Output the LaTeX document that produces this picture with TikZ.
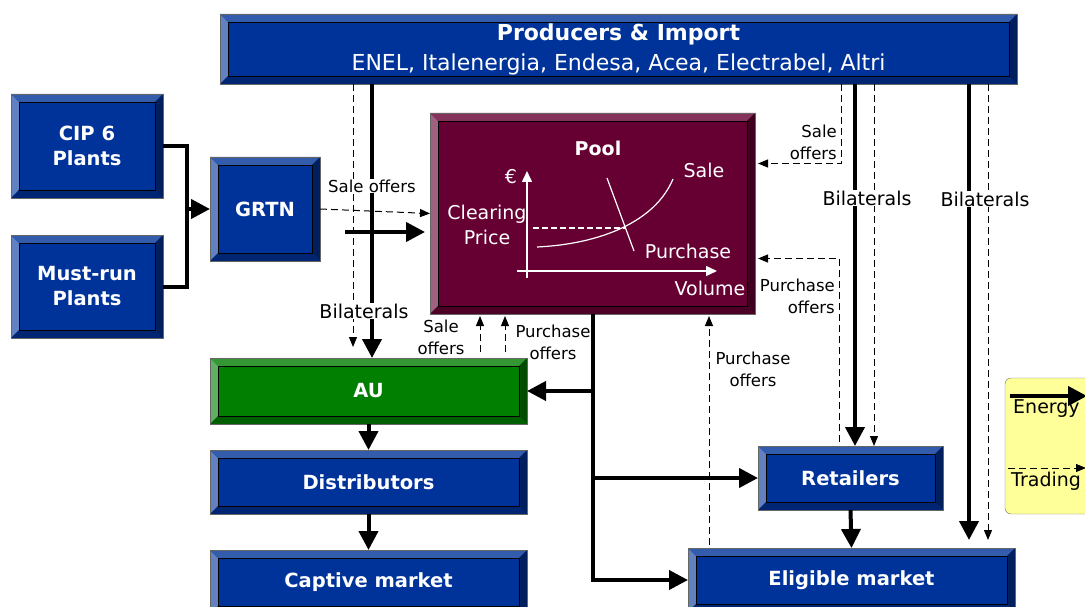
\documentclass[tikz,border=0pt]{standalone}
\usepackage{fontspec}
\setmainfont{DejaVu Sans}
\usepackage{tikz}
\usetikzlibrary{positioning}
\usetikzlibrary{arrows.meta}
\usetikzlibrary{calc}

\definecolor{boxblue}{HTML}{003399}
\definecolor{boxgreen}{HTML}{007F00}
\definecolor{poolred}{HTML}{660033}
\definecolor{legendyellow}{HTML}{FFFF99}

% bevelled faces of a panel
\newcommand\bevelfaces[1]{%
  \coordinate (pA) at (path picture bounding box.north west);
  \coordinate (pB) at (path picture bounding box.north east);
  \coordinate (pC) at (path picture bounding box.south east);
  \coordinate (pD) at (path picture bounding box.south west);
  \coordinate (qA) at ([xshift=8pt,yshift=-8pt]pA);
  \coordinate (qB) at ([xshift=-8pt,yshift=-8pt]pB);
  \coordinate (qC) at ([xshift=-8pt,yshift=8pt]pC);
  \coordinate (qD) at ([xshift=8pt,yshift=8pt]pD);
  \fill[#1!62!white] (pA) -- (qA) -- (qD) -- (pD) -- cycle;
  \fill[#1!80!white] (pA) -- (pB) -- (qB) -- (qA) -- cycle;
  \fill[#1!60!black] (pB) -- (pC) -- (qC) -- (qB) -- cycle;
  \fill[#1!75!black] (pD) -- (pC) -- (qC) -- (qD) -- cycle;
  \draw[black, line width=0.6pt] (qA) rectangle (qC);
}

\tikzset{panel/.style={rectangle,inner sep=0pt,outer sep=0pt,draw=black!60,line width=0.8pt,
    fill=#1,text=white,align=center,font=\bfseries\fontsize{19.5}{25}\selectfont,
    path picture={\bevelfaces{#1}}}}
\tikzset{energy/.style={line width=4pt,line join=miter,-{Triangle[width=19pt,length=19pt]}}}
\tikzset{trade/.style={line width=1pt,dash pattern=on 7pt off 4pt,-{Triangle[width=8pt,length=10pt]}}}
\tikzset{lab/.style={font=\fontsize{19}{24}\selectfont,inner sep=1pt}}
\tikzset{smalltxt/.style={font=\fontsize{16.5}{22}\selectfont,inner sep=1pt}}
\tikzset{inpool/.style={text=white,font=\fontsize{19}{25}\selectfont,inner sep=0pt}}

\begin{document}
\begin{tikzpicture}[x=1pt,y=-1pt]
  \path[use as bounding box,clip] (0,0) rectangle (1085,607);

  % boxes
  \node[panel=boxblue,minimum width=797pt,minimum height=70pt] (prod) at (618.5,49)
     {\fontsize{22}{26}\selectfont Producers \& Import\\[5pt]
      \fontsize{22}{26}\selectfont\mdseries ENEL, Italenergia, Endesa, Acea, Electrabel, Altri};
  \node[panel=boxblue,minimum width=152pt,minimum height=104pt] (cip) at (87,146) {CIP 6\\Plants};
  \node[panel=boxblue,minimum width=152pt,minimum height=103pt] (mustrun) at (87,286.5) {Must-run\\Plants};
  \node[panel=boxblue,minimum width=110pt,minimum height=104pt] (grtn) at (265,209) {GRTN};
  \node[panel=poolred,minimum width=325pt,minimum height=201pt] (pool) at (592.5,213.5) {};
  \node[panel=boxgreen,minimum width=317pt,minimum height=66pt] (au) at (368.5,391) {AU};
  \node[panel=boxblue,minimum width=317pt,minimum height=64pt] (distr) at (368.5,482) {Distributors};
  \node[panel=boxblue,minimum width=317pt,minimum height=64pt] (captive) at (368.5,582) {Captive market};
  \node[panel=boxblue,minimum width=185pt,minimum height=64pt] (retail) at (850.5,478) {Retailers};
  \node[panel=boxblue,minimum width=327pt,minimum height=64pt] (eligible) at (851.5,580) {Eligible market};
  \node[rectangle,rounded corners=6pt,draw=black!55,fill=legendyellow,minimum width=124pt,
        minimum height=136pt] (legend) at (1067,446) {};

  % pool chart
  \node[inpool,font=\bfseries\fontsize{19}{25}\selectfont] (poolT) at (598,148) {Pool};
  \draw[white,line width=1.5pt,-{Triangle[width=10pt,length=11pt]}] (527,278) -- (527,171);
  \draw[white,line width=1.5pt,-{Triangle[width=10pt,length=11pt]}] (517,271) -- (717,271);
  \draw[white,line width=1.5pt,dash pattern=on 6pt off 3pt] (533,228) -- (625,228);
  \draw[white,line width=1.2pt] (537,247) .. controls (600,244) and (655,222) .. (673,179);
  \draw[white,line width=1.2pt] (607,178) -- (634,251);
  \node[inpool] (euro) at (511,177) {€};
  \node[inpool,align=center] (clear) at (487,225) {Clearing\\Price};
  \node[inpool] (saleT) at (704,170) {Sale};
  \node[inpool] (purchT) at (688,251) {Purchase};
  \node[inpool] (volT) at (710,288) {Volume};

  % columns of the vertical connectors
  \coordinate (colA) at (353,0);
  \coordinate (colB) at (372,0);
  \coordinate (colC) at (841,0);
  \coordinate (colD) at (855,0);
  \coordinate (colE) at (874,0);
  \coordinate (colF) at (969,0);
  \coordinate (colG) at (988,0);
  \coordinate (colH) at (839,0);
  \coordinate (colI) at (480,0);
  \coordinate (colJ) at (505,0);
  \coordinate (colK) at (709,0);
  \coordinate (jn) at (187,209);
  \coordinate (eIn) at (345,232);

  % energy
  \draw[line width=4pt,line join=miter] (cip.east) -| (jn) |- (mustrun.east);
  \draw[energy] (jn) -- (grtn.west);
  \draw[energy] (prod.south -| colB) -- (au.north -| colB);
  \draw[energy,shorten >=5pt] (eIn) -- (eIn -| pool.west);
  \draw[energy] (prod.south -| colD) -- (retail.north -| colD);
  \draw[energy] (prod.south -| colF) -- ([yshift=8pt]eligible.north -| colF);
  \draw[energy] (pool.south) |- (eligible.west);
  \draw[energy] (pool.south |- au.east) -- (au.east);
  \draw[energy] (pool.south |- retail.west) -- (retail.west);
  \draw[energy] (au.south) -- (distr.north);
  \draw[energy] (distr.south) -- (captive.north);
  \draw[energy] (retail.south) -- (eligible.north);

  % trading
  \draw[trade,shorten >=11pt] (prod.south -| colA) -- (au.north -| colA);
  \draw[trade] (grtn.east) -- (pool.west);
  \draw[trade,shorten >=3pt] (prod.south -| colC) |- ([yshift=50pt]pool.east);
  \draw[trade] (prod.south -| colE) -- (retail.north -| colE);
  \draw[trade] (prod.south -| colG) -- ([yshift=8pt]eligible.north -| colG);
  \draw[trade,shorten >=3pt] ([yshift=4pt]retail.north -| colH) |- ([yshift=-45pt]pool.east);
  \draw[trade,shorten >=2pt] ([yshift=6pt]au.north -| colI) -- (pool.south -| colI);
  \draw[trade,shorten >=2pt] ([yshift=6pt]au.north -| colJ) -- (pool.south -| colJ);
  \draw[trade,shorten >=2pt] ([yshift=3pt]eligible.north -| colK) -- (pool.south -| colK);

  % labels
  \node[smalltxt,fill=white] (lbSaleG) at (372,186) {Sale offers};
  \node[lab,fill=white] (lbBilA) at (364,311) {Bilaterals};
  \node[lab,fill=white] (lbBilB) at (867,198) {Bilaterals};
  \node[lab,fill=white] (lbBilC) at (985,199) {Bilaterals};
  \node[smalltxt,align=right,anchor=east] (lbSaleR) at (838,142) {Sale\\offers};
  \node[smalltxt,align=right,anchor=east] (lbPurchR) at (836,296) {Purchase\\offers};
  \node[smalltxt,align=center] (lbSaleAU) at (441,337) {Sale\\offers};
  \node[smalltxt,align=center] (lbPurchAU) at (553,342) {Purchase\\offers};
  \node[smalltxt,align=center] (lbPurchE) at (753,369) {Purchase\\offers};

  % legend
  \coordinate (lgA1) at (1010,396);
  \coordinate (lgA2) at (1087,396);
  \coordinate (lgB1) at (1008,468);
  \coordinate (lgB2) at (1086,468);
  \draw[energy] (lgA1) -- (lgA2);
  \draw[trade] (lgB1) -- (lgB2);
  \node[lab,anchor=west] (lgEnergy) at (1012,409) {Energy};
  \node[lab,anchor=west] (lgTrading) at (1010,481) {Trading};
\end{tikzpicture}
\end{document}
